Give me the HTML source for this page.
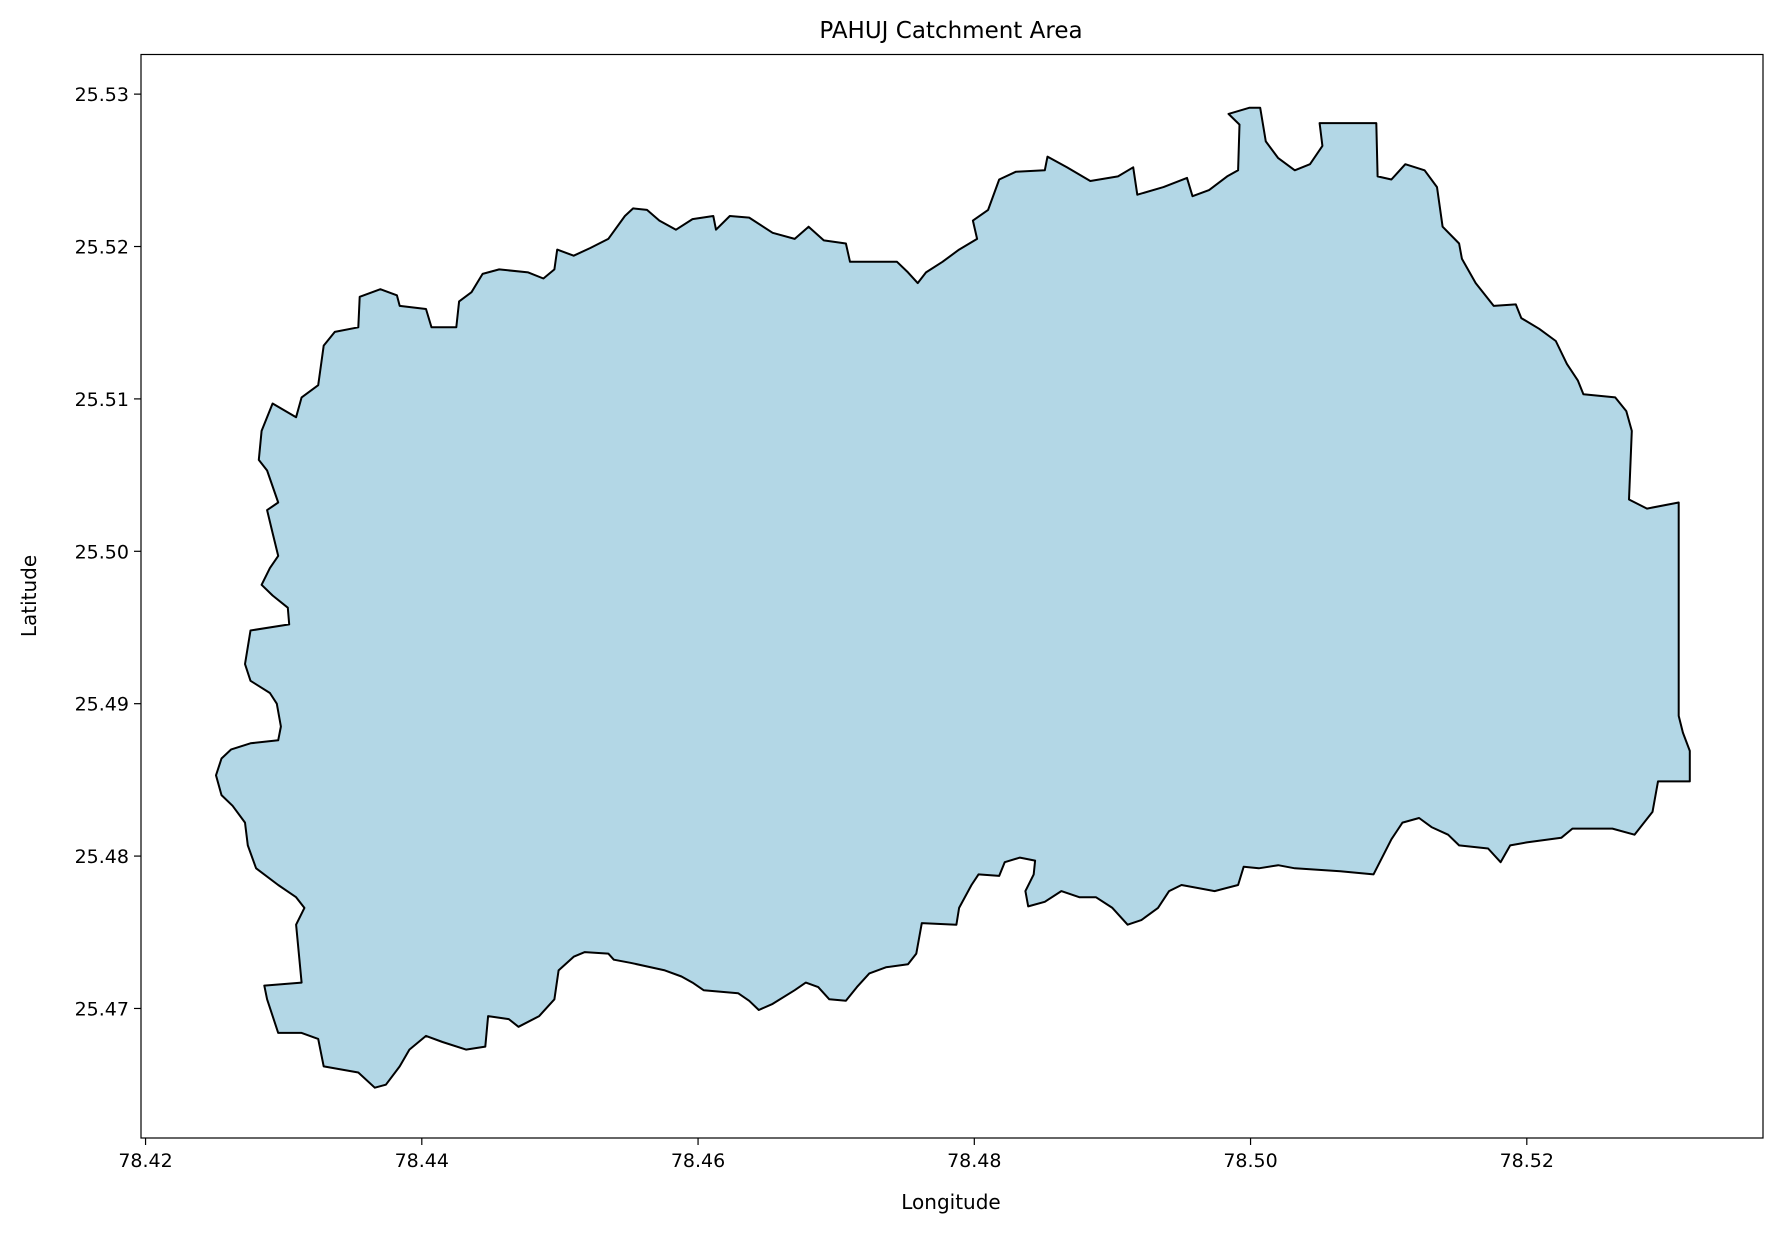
<!DOCTYPE html>
<html>
<head>
<meta charset="utf-8">
<style>
  html,body{margin:0;padding:0;background:#fff;}
  svg{display:block;font-family:"DejaVu Sans","Liberation Sans",sans-serif;}
</style>
</head>
<body>
<svg id="chart" width="1781" height="1234" viewBox="0 0 1781 1234">
  <rect x="0" y="0" width="1781" height="1234" fill="#ffffff"/>
  <text x="951" y="38" font-size="23" text-anchor="middle" fill="#000">PAHUJ Catchment Area</text>
  <g id="plot"></g>
  <g id="xticks"></g>
  <g id="yticks"></g>
  <rect x="141" y="54.5" width="1622" height="1083.5" fill="none" stroke="#000" stroke-width="1.2"/>
  <text x="951" y="1209" font-size="20" text-anchor="middle" fill="#000">Longitude</text>
  <text x="36" y="596" font-size="20" text-anchor="middle" fill="#000" transform="rotate(-90 36 596)">Latitude</text>
</svg>
<script>
const lonData = [78.4251,78.4255,78.4262,78.4276,78.4296,78.4298,78.4295,78.4290,78.4276,78.4272,78.4276,78.4304,78.4303,78.4292,78.4284,78.4290,78.4296,78.4292,78.4288,78.4296,78.4288,78.4282,78.4284,78.4292,78.4309,78.4313,78.4325,78.4329,78.4337,78.4354,78.4355,78.4370,78.4382,78.4384,78.4403,78.4407,78.4425,78.4427,78.4436,78.4444,78.4456,78.4477,78.4488,78.4496,78.4498,78.4510,78.4522,78.4535,78.4547,78.4553,78.4563,78.4572,78.4584,78.4596,78.4611,78.4613,78.4623,78.4637,78.4654,78.4670,78.4680,78.4691,78.4707,78.4710,78.4744,78.4752,78.4759,78.4765,78.4777,78.4789,78.4802,78.4799,78.4810,78.4818,78.4830,78.4851,78.4853,78.4867,78.4884,78.4904,78.4915,78.4918,78.4937,78.4954,78.4958,78.4970,78.4983,78.4991,78.4992,78.4984,78.4999,78.5007,78.5011,78.5020,78.5032,78.5043,78.5052,78.5050,78.5091,78.5092,78.5102,78.5112,78.5126,78.5135,78.5139,78.5151,78.5153,78.5163,78.5176,78.5192,78.5196,78.5209,78.5221,78.5229,78.5237,78.5241,78.5264,78.5272,78.5276,78.5274,78.5287,78.5310,78.5310,78.5313,78.5318,78.5318,78.5295,78.5291,78.5278,78.5262,78.5233,78.5225,78.5200,78.5188,78.5181,78.5172,78.5151,78.5143,78.5131,78.5122,78.5110,78.5102,78.5089,78.5065,78.5032,78.5020,78.5006,78.4995,78.4991,78.4974,78.4950,78.4941,78.4933,78.4921,78.4911,78.4900,78.4888,78.4876,78.4863,78.4851,78.4839,78.4837,78.4843,78.4844,78.4833,78.4822,78.4818,78.4803,78.4798,78.4789,78.4787,78.4762,78.4758,78.4752,78.4736,78.4724,78.4715,78.4707,78.4695,78.4687,78.4678,78.4670,78.4654,78.4644,78.4637,78.4629,78.4604,78.4596,78.4588,78.4576,78.4551,78.4539,78.4535,78.4518,78.4510,78.4499,78.4496,78.4485,78.4470,78.4463,78.4448,78.4446,78.4432,78.4415,78.4403,78.4391,78.4384,78.4374,78.4366,78.4354,78.4329,78.4325,78.4313,78.4296,78.4288,78.4286,78.4313,78.4309,78.4315,78.4309,78.4296,78.4280,78.4274,78.4272,78.4263,78.4255];
const latData = [25.4853,25.4864,25.4870,25.4874,25.4876,25.4885,25.4900,25.4907,25.4915,25.4926,25.4948,25.4952,25.4963,25.4971,25.4978,25.4989,25.4997,25.5012,25.5027,25.5032,25.5053,25.5060,25.5079,25.5097,25.5088,25.5101,25.5109,25.5135,25.5144,25.5147,25.5167,25.5172,25.5168,25.5161,25.5159,25.5147,25.5147,25.5164,25.5170,25.5182,25.5185,25.5183,25.5179,25.5185,25.5198,25.5194,25.5199,25.5205,25.5220,25.5225,25.5224,25.5217,25.5211,25.5218,25.5220,25.5211,25.5220,25.5219,25.5209,25.5205,25.5213,25.5204,25.5202,25.5190,25.5190,25.5183,25.5176,25.5183,25.5190,25.5198,25.5205,25.5217,25.5224,25.5244,25.5249,25.5250,25.5259,25.5252,25.5243,25.5246,25.5252,25.5234,25.5239,25.5245,25.5233,25.5237,25.5246,25.5250,25.5280,25.5287,25.5291,25.5291,25.5269,25.5258,25.5250,25.5254,25.5266,25.5281,25.5281,25.5246,25.5244,25.5254,25.5250,25.5239,25.5213,25.5202,25.5192,25.5176,25.5161,25.5162,25.5153,25.5146,25.5138,25.5123,25.5112,25.5103,25.5101,25.5092,25.5079,25.5034,25.5028,25.5032,25.4892,25.4881,25.4869,25.4849,25.4849,25.4829,25.4814,25.4818,25.4818,25.4812,25.4809,25.4807,25.4796,25.4805,25.4807,25.4814,25.4819,25.4825,25.4822,25.4811,25.4788,25.4790,25.4792,25.4794,25.4792,25.4793,25.4781,25.4777,25.4781,25.4777,25.4766,25.4758,25.4755,25.4766,25.4773,25.4773,25.4777,25.4770,25.4767,25.4777,25.4788,25.4797,25.4799,25.4796,25.4787,25.4788,25.4781,25.4766,25.4755,25.4756,25.4736,25.4729,25.4727,25.4723,25.4714,25.4705,25.4706,25.4714,25.4717,25.4712,25.4703,25.4699,25.4705,25.4710,25.4712,25.4717,25.4721,25.4725,25.4730,25.4732,25.4736,25.4737,25.4734,25.4725,25.4706,25.4695,25.4688,25.4693,25.4695,25.4675,25.4673,25.4678,25.4682,25.4673,25.4662,25.4650,25.4648,25.4658,25.4662,25.4680,25.4684,25.4684,25.4706,25.4715,25.4717,25.4755,25.4766,25.4773,25.4781,25.4792,25.4807,25.4822,25.4833,25.4840];
const xTickValues = [78.42,78.44,78.46,78.48,78.50,78.52];
const xTickLabels = ["78.42","78.44","78.46","78.48","78.50","78.52"];
const yTickValues = [25.47,25.48,25.49,25.50,25.51,25.52,25.53];
const yTickLabels = ["25.47","25.48","25.49","25.50","25.51","25.52","25.53"];

const X0 = 141, X1 = 1763, Y0 = 54.5, Y1 = 1138;
const LON_MIN = 78.41967, LON_MAX = 78.5371, LAT_MIN = 25.4615, LAT_MAX = 25.5326;
function xScale(v){ return X0 + (v - LON_MIN) / (LON_MAX - LON_MIN) * (X1 - X0); }
function yScale(v){ return Y1 - (v - LAT_MIN) / (LAT_MAX - LAT_MIN) * (Y1 - Y0); }

const NS = "http://www.w3.org/2000/svg";
const plot = document.getElementById('plot');
let pts = [];
for (let i = 0; i < lonData.length; i++) {
  pts.push(xScale(lonData[i]).toFixed(1) + ',' + yScale(latData[i]).toFixed(1));
}
const poly = document.createElementNS(NS, 'polygon');
poly.setAttribute('points', pts.join(' '));
poly.setAttribute('fill', '#b3d7e6');
poly.setAttribute('stroke', '#000');
poly.setAttribute('stroke-width', '2');
poly.setAttribute('stroke-linejoin', 'round');


plot.appendChild(poly);

const xg = document.getElementById('xticks');
xTickValues.forEach((v, i) => {
  const x = xScale(v);
  const t = document.createElementNS(NS, 'line');
  t.setAttribute('x1', x); t.setAttribute('x2', x);
  t.setAttribute('y1', Y1); t.setAttribute('y2', Y1 + 7);
  t.setAttribute('stroke', '#000'); t.setAttribute('stroke-width', '1.2');
  
  
  xg.appendChild(t);
  const l = document.createElementNS(NS, 'text');
  l.setAttribute('x', x); l.setAttribute('y', Y1 + 29);
  l.setAttribute('font-size', '19'); l.setAttribute('text-anchor', 'middle');
  l.textContent = xTickLabels[i];
  
  
  xg.appendChild(l);
});
const yg = document.getElementById('yticks');
yTickValues.forEach((v, i) => {
  const y = yScale(v);
  const t = document.createElementNS(NS, 'line');
  t.setAttribute('x1', X0 - 7); t.setAttribute('x2', X0);
  t.setAttribute('y1', y); t.setAttribute('y2', y);
  t.setAttribute('stroke', '#000'); t.setAttribute('stroke-width', '1.2');
  
  
  yg.appendChild(t);
  const l = document.createElementNS(NS, 'text');
  l.setAttribute('x', X0 - 12); l.setAttribute('y', y + 7);
  l.setAttribute('font-size', '19'); l.setAttribute('text-anchor', 'end');
  l.textContent = yTickLabels[i];
  
  
  yg.appendChild(l);
});
</script>
</body>
</html>
